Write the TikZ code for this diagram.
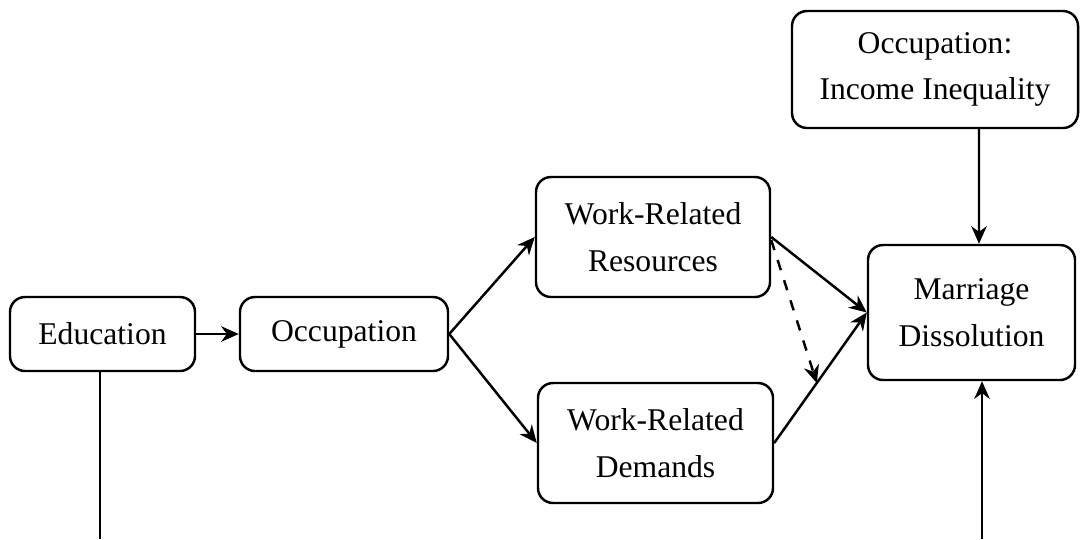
\documentclass[tikz,border=0pt]{standalone}
\usepackage{fontspec}
\setmainfont{Liberation Serif}
\usetikzlibrary{positioning, arrows.meta}

\begin{document}
\begin{tikzpicture}[
        box/.style={draw, line width=0.7pt, rounded corners=0.15cm, align=center,
                inner sep=0pt, font=\fontsize{9}{13.3}\selectfont},
        link/.style={-{Stealth[length=5pt, width=4.4pt, inset=1.6pt]}, line width=0.7pt}
    ]
    \useasboundingbox (0, 0) rectangle (10.8, -5.39);
    % Boxes
    \node[box, minimum width=1.85cm, minimum height=0.74cm] (Edu) at (1.025, -3.34) {Education};
    \node[box, minimum width=2.08cm, minimum height=0.74cm] (Occ) at (3.44, -3.34) {Occupation};
    \node[box, minimum width=2.34cm, minimum height=1.20cm] (Res) at (6.53, -2.37) {Work-Related\\Resources};
    \node[box, minimum width=2.35cm, minimum height=1.20cm] (Dem) at (6.555, -4.43) {Work-Related\\Demands};
    \node[box, minimum width=2.07cm, minimum height=1.35cm] (Diss) at (9.715, -3.125) {Marriage\\Dissolution};
    \node[box, minimum width=2.86cm, minimum height=1.17cm] (Ineq) at (9.35, -0.695) {Occupation:\\Income Inequality};

    % Lines running off the bottom edge
    \coordinate (EduBase) at (1.00, -5.39);
    \coordinate (DissBase) at (9.82, -5.39);

    % Connect boxes
    \draw[link] (Edu) -- (Occ);
    \draw[link] (Occ.east) -- (Res.west);
    \draw[link] (Occ.east) -- (Dem.west);
    \draw[link] (Res.east) -- (Diss.west);
    \draw[link] (Dem.east) -- coordinate[pos=0.46] (Joint) (Diss.west);
    \draw[link, dashed] ([yshift=-0.03cm]Res.east) -- (Joint);
    \draw[link] ([xshift=0.44cm]Ineq.south) -- ([xshift=0.075cm]Diss.north);
    \draw[line width=0.7pt] (Edu.south -| EduBase) -- (EduBase);
    \draw[link] (DissBase) -- (DissBase |- Diss.south);
\end{tikzpicture}
\end{document}
